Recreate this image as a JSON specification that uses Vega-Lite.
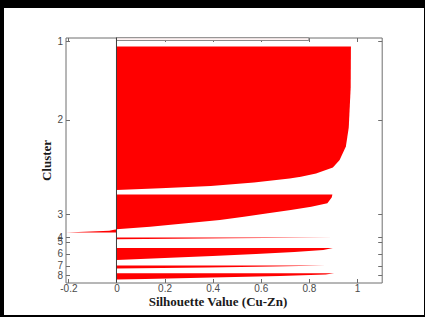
{
  "$schema": "https://vega.github.io/schema/vega-lite/v6.json",
  "width": 420,
  "height": 307,
  "autosize": {"type": "none"},
  "padding": {"left": 4, "top": 8, "right": 1, "bottom": 2},
  "background": "#000000",
  "config": {
    "view": {"fill": "#ffffff", "stroke": null},
    "axis": {
      "grid": false,
      "domainColor": "#6e6e6e",
      "tickColor": "#6e6e6e",
      "tickSize": -4,
      "labelFont": "Liberation Sans",
      "labelFontSize": 10,
      "labelColor": "#4a4a4a",
      "labelOverlap": false,
      "labelFlush": false,
      "labelBound": false,
      "titleFont": "Liberation Serif",
      "titleFontSize": 13,
      "titleFontWeight": "bold",
      "titleColor": "#1a1a1a",
      "zindex": 1
    }
  },
  "datasets": {
    "silhouette": [
      {"cluster": 2, "pos": 9.0, "silhouette": 0.975},
      {"cluster": 2, "pos": 50, "silhouette": 0.974},
      {"cluster": 2, "pos": 90, "silhouette": 0.966},
      {"cluster": 2, "pos": 109, "silhouette": 0.954},
      {"cluster": 2, "pos": 122.5, "silhouette": 0.928},
      {"cluster": 2, "pos": 130, "silhouette": 0.9},
      {"cluster": 2, "pos": 133, "silhouette": 0.865},
      {"cluster": 2, "pos": 136, "silhouette": 0.83},
      {"cluster": 2, "pos": 139.2, "silhouette": 0.767},
      {"cluster": 2, "pos": 141, "silhouette": 0.72},
      {"cluster": 2, "pos": 145, "silhouette": 0.572},
      {"cluster": 2, "pos": 148.5, "silhouette": 0.392},
      {"cluster": 2, "pos": 150.8, "silhouette": 0.183},
      {"cluster": 2, "pos": 152.5, "silhouette": 0.0},
      {"cluster": 3, "pos": 157, "silhouette": 0.898},
      {"cluster": 3, "pos": 160, "silhouette": 0.895},
      {"cluster": 3, "pos": 165.8, "silhouette": 0.877},
      {"cluster": 3, "pos": 169.2, "silhouette": 0.81},
      {"cluster": 3, "pos": 172.5, "silhouette": 0.725},
      {"cluster": 3, "pos": 175.8, "silhouette": 0.63},
      {"cluster": 3, "pos": 179.2, "silhouette": 0.53},
      {"cluster": 3, "pos": 182.5, "silhouette": 0.43},
      {"cluster": 3, "pos": 185.8, "silhouette": 0.29},
      {"cluster": 3, "pos": 189.2, "silhouette": 0.14},
      {"cluster": 3, "pos": 191.8, "silhouette": 0.0},
      {"cluster": 3, "pos": 193.2, "silhouette": -0.03},
      {"cluster": 3, "pos": 195.0, "silhouette": -0.21},
      {"cluster": 4, "pos": 200.0, "silhouette": 0.905},
      {"cluster": 4, "pos": 200.8, "silhouette": 0.47},
      {"cluster": 4, "pos": 201.8, "silhouette": 0.0},
      {"cluster": 6, "pos": 210.5, "silhouette": 0.9},
      {"cluster": 6, "pos": 212.5, "silhouette": 0.86},
      {"cluster": 6, "pos": 214.5, "silhouette": 0.74},
      {"cluster": 6, "pos": 216.5, "silhouette": 0.58},
      {"cluster": 6, "pos": 218.5, "silhouette": 0.4},
      {"cluster": 6, "pos": 220.5, "silhouette": 0.2},
      {"cluster": 6, "pos": 222.5, "silhouette": 0.0},
      {"cluster": 7, "pos": 228.0, "silhouette": 0.87},
      {"cluster": 7, "pos": 229.0, "silhouette": 0.65},
      {"cluster": 7, "pos": 230.0, "silhouette": 0.38},
      {"cluster": 7, "pos": 231.0, "silhouette": 0.0},
      {"cluster": 8, "pos": 235.8, "silhouette": 0.905},
      {"cluster": 8, "pos": 237.0, "silhouette": 0.87},
      {"cluster": 8, "pos": 238.5, "silhouette": 0.68},
      {"cluster": 8, "pos": 240.0, "silhouette": 0.4},
      {"cluster": 8, "pos": 241.5, "silhouette": 0.12},
      {"cluster": 8, "pos": 242.0, "silhouette": 0.0}
    ],
    "cluster1": [
      {"cluster": 1, "top": 0.2, "bottom": 3.0, "silhouette": 0.8}
    ],
    "zeroline": [
      {"silhouette": 0, "top": 0, "bottom": 245}
    ]
  },
  "resolve": {"axis": {"x": "independent", "y": "independent"}},
  "layer": [
    {
      "data": {"name": "silhouette"},
      "mark": {"type": "area", "orient": "horizontal", "color": "#ff0000", "opacity": 1, "interpolate": "linear"},
      "encoding": {
        "y": {
          "field": "pos",
          "type": "quantitative",
          "scale": {"domain": [0, 245], "range": [29.5, 274.5], "nice": false},
          "axis": {
            "orient": "left",
            "offset": -61.5,
            "values": [3.5, 82, 176.5, 199.8, 204.2, 216.2, 228.2, 237.5],
            "labelExpr": "'' + (indexof([3.5, 82, 176.5, 199.8, 204.2, 216.2, 228.2, 237.5], datum.value) + 1)",
            "labelPadding": 7,
            "title": "Cluster",
            "titlePadding": 3
          }
        },
        "x": {
          "field": "silhouette",
          "type": "quantitative",
          "stack": null,
          "scale": {"domain": [-0.212, 1.103], "range": [61.5, 377.7], "nice": false},
          "axis": {
            "orient": "bottom",
            "offset": -32.5,
            "values": [-0.2, 0, 0.2, 0.4, 0.6, 0.8, 1],
            "labelExpr": "'' + datum.value",
            "labelPadding": 5,
            "title": "Silhouette Value (Cu-Zn)",
            "titleX": 213.5,
            "titlePadding": 2
          }
        },
        "x2": {"datum": 0},
        "detail": {"field": "cluster", "type": "nominal"}
      }
    },
    {
      "data": {"name": "cluster1"},
      "mark": {"type": "rect", "fill": "#fff3f3", "stroke": "#8c8c8c", "strokeWidth": 1},
      "encoding": {
        "x": {
          "field": "silhouette",
          "type": "quantitative",
          "axis": {
            "orient": "top",
            "offset": -29.5,
            "values": [-0.2, 0, 0.2, 0.4, 0.6, 0.8, 1],
            "labels": false,
            "title": null
          }
        },
        "x2": {"datum": 0},
        "y": {
          "field": "top",
          "type": "quantitative",
          "axis": {
            "orient": "right",
            "offset": -42.3,
            "values": [3.5, 82, 176.5, 199.8, 204.2, 216.2, 228.2, 237.5],
            "labels": false,
            "title": null
          }
        },
        "y2": {"field": "bottom"}
      }
    },
    {
      "data": {"name": "zeroline"},
      "mark": {"type": "rule", "color": "#3c3c3c", "strokeWidth": 1},
      "encoding": {
        "x": {"field": "silhouette", "type": "quantitative", "axis": null},
        "y": {"field": "top", "type": "quantitative", "axis": null},
        "y2": {"field": "bottom"}
      }
    }
  ]
}
